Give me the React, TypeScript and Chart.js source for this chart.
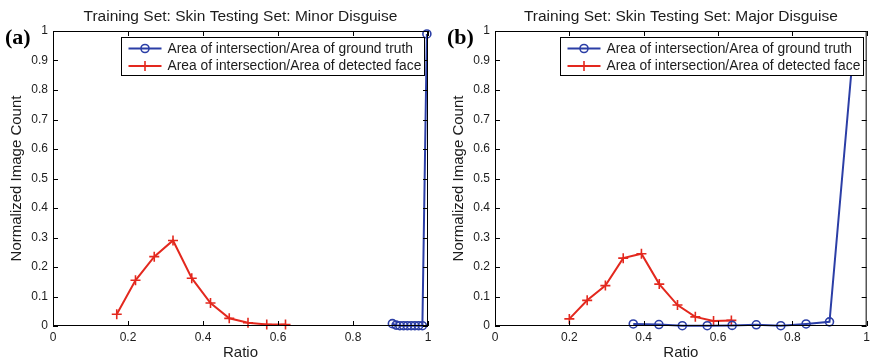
import React, { useEffect, useRef } from "react";
import { Chart, registerables } from "chart.js";

Chart.register(...registerables);

const SANS = "'Liberation Sans', Arial, Helvetica, sans-serif";
const SERIF = "'Liberation Serif', 'Times New Roman', serif";
const BLUE = "#2b3ea6";
const RED = "#e3281e";
const INK = "#1c1c1c";

const GROUND_LABEL = "Area of intersection/Area of ground truth";
const DETECTED_LABEL = "Area of intersection/Area of detected face";

const xTicks = [0, 0.2, 0.4, 0.6, 0.8, 1];
const yTicks = [0, 0.1, 0.2, 0.3, 0.4, 0.5, 0.6, 0.7, 0.8, 0.9, 1];

// (a) Skin training set, minor disguise test set
const minorGroundX = [0.905, 0.915, 0.925, 0.935, 0.945, 0.955, 0.965, 0.975, 0.985, 0.997];
const minorGroundY = [0.008, 0.003, 0.001, 0.001, 0.001, 0.001, 0.001, 0.001, 0.001, 0.99];
const minorDetectedX = [0.17, 0.22, 0.27, 0.32, 0.37, 0.42, 0.47, 0.52, 0.57, 0.62];
const minorDetectedY = [0.04, 0.155, 0.235, 0.29, 0.162, 0.078, 0.026, 0.011, 0.005, 0.005];

// (b) Skin training set, major disguise test set
const majorGroundX = [0.372, 0.441, 0.504, 0.571, 0.638, 0.703, 0.769, 0.837, 0.9, 0.965];
const majorGroundY = [0.007, 0.005, 0.001, 0.001, 0.002, 0.004, 0.001, 0.007, 0.014, 0.95];
const majorDetectedX = [0.2, 0.248, 0.297, 0.345, 0.394, 0.442, 0.491, 0.539, 0.588, 0.636];
const majorDetectedY = [0.024, 0.087, 0.137, 0.23, 0.245, 0.142, 0.071, 0.031, 0.017, 0.019];

const CANVAS_W = 437;
const CANVAS_H = 361;

type PanelProps = {
  tag: string;
  title: string;
  groundX: number[];
  groundY: number[];
  detectedX: number[];
  detectedY: number[];
  left: number;
  axisLeft: number;
  padRight: number;
};

function pairs(xs: number[], ys: number[]) {
  return xs.map((x, i) => ({ x, y: ys[i] }));
}

function fmtTick(v: number) {
  return String(Math.round(v * 10) / 10);
}

function makeFrame(tag: string, title: string) {
  return {
    id: "frame",
    afterDatasetsDraw(chart: any) {
      const ctx: CanvasRenderingContext2D = chart.ctx;
      const a = chart.chartArea;
      const sx = chart.scales.x;
      const sy = chart.scales.y;
      ctx.save();
      ctx.strokeStyle = "#000";
      ctx.lineWidth = 1;
      ctx.strokeRect(a.left + 0.5, a.top + 0.5, a.right - a.left - 1, a.bottom - a.top - 1);
      ctx.beginPath();
      const tl = 5;
      for (const v of xTicks) {
        const px = Math.round(sx.getPixelForValue(v)) + 0.5;
        ctx.moveTo(px, a.bottom);
        ctx.lineTo(px, a.bottom - tl);
        ctx.moveTo(px, a.top);
        ctx.lineTo(px, a.top + tl);
      }
      for (const v of yTicks) {
        const py = Math.round(sy.getPixelForValue(v)) + 0.5;
        ctx.moveTo(a.left, py);
        ctx.lineTo(a.left + tl, py);
        ctx.moveTo(a.right, py);
        ctx.lineTo(a.right - tl, py);
      }
      ctx.stroke();

      // legend box in the upper right corner
      const bw = 303;
      const bh = 38;
      const bx = Math.round(a.right - 4 - bw) + 0.5;
      const by = Math.round(a.top + 6) + 0.5;
      ctx.fillStyle = "#fff";
      ctx.fillRect(bx, by, bw, bh);
      ctx.strokeStyle = "#000";
      ctx.lineWidth = 1;
      ctx.strokeRect(bx, by, bw, bh);
      const rows = [
        { label: GROUND_LABEL, color: BLUE, marker: "circle" },
        { label: DETECTED_LABEL, color: RED, marker: "cross" },
      ];
      ctx.font = `13.8px ${SANS}`;
      ctx.textBaseline = "middle";
      ctx.textAlign = "left";
      rows.forEach((r, i) => {
        const cy = by + 11 + i * 17.5;
        ctx.strokeStyle = r.color;
        ctx.lineWidth = 2;
        ctx.beginPath();
        ctx.moveTo(bx + 7, cy);
        ctx.lineTo(bx + 40, cy);
        ctx.stroke();
        const mx = bx + 23.5;
        ctx.lineWidth = 1.6;
        ctx.beginPath();
        if (r.marker === "circle") {
          ctx.arc(mx, cy, 4, 0, Math.PI * 2);
        } else {
          ctx.moveTo(mx - 5, cy);
          ctx.lineTo(mx + 5, cy);
          ctx.moveTo(mx, cy - 5);
          ctx.lineTo(mx, cy + 5);
        }
        ctx.stroke();
        ctx.fillStyle = INK;
        ctx.fillText(r.label, bx + 46, cy + 0.5);
      });
      ctx.restore();
    },
    afterDraw(chart: any) {
      const ctx: CanvasRenderingContext2D = chart.ctx;
      const a = chart.chartArea;
      const cx = (a.left + a.right) / 2;
      const cy = (a.top + a.bottom) / 2;
      ctx.save();
      ctx.fillStyle = INK;
      ctx.textAlign = "center";
      ctx.textBaseline = "alphabetic";
      ctx.font = `15.5px ${SANS}`;
      ctx.fillText(title, cx, 21);
      ctx.font = `15px ${SANS}`;
      ctx.fillText("Ratio", cx, 357);
      ctx.save();
      ctx.translate(a.left - 36, cy);
      ctx.rotate(-Math.PI / 2);
      ctx.textBaseline = "middle";
      ctx.fillText("Normalized Image Count", 0, 0);
      ctx.restore();
      ctx.fillStyle = "#000";
      ctx.textAlign = "left";
      ctx.font = `bold 22px ${SERIF}`;
      ctx.fillText(tag, a.left - 48, 44);
      ctx.restore();
    },
  };
}

function Panel(p: PanelProps) {
  const ref = useRef<HTMLCanvasElement>(null);
  useEffect(() => {
    const canvas = ref.current;
    if (!canvas) return;
    const tickFont = { family: SANS, size: 12 };
    const chart = new Chart(canvas, {
      type: "line",
      data: {
        datasets: [
          {
            label: GROUND_LABEL,
            data: pairs(p.groundX, p.groundY),
            borderColor: BLUE,
            backgroundColor: "transparent",
            borderWidth: 2,
            pointStyle: "circle",
            pointRadius: 4,
            pointBorderWidth: 1.6,
            pointBorderColor: BLUE,
            pointBackgroundColor: "transparent",
            tension: 0,
            clip: 8,
          },
          {
            label: DETECTED_LABEL,
            data: pairs(p.detectedX, p.detectedY),
            borderColor: RED,
            backgroundColor: "transparent",
            borderWidth: 2,
            pointStyle: "cross",
            pointRadius: 5,
            pointBorderWidth: 1.6,
            pointBorderColor: RED,
            pointBackgroundColor: "transparent",
            tension: 0,
            clip: 8,
          },
        ],
      },
      options: {
        responsive: false,
        animation: false,
        devicePixelRatio: 1,
        events: [],
        layout: { padding: { left: 0, right: p.padRight, top: 31, bottom: 0 } },
        scales: {
          x: {
            type: "linear",
            min: 0,
            max: 1,
            afterBuildTicks: (s: any) => {
              s.ticks = xTicks.map((value) => ({ value }));
            },
            afterFit: (s: any) => {
              s.height = 35;
            },
            ticks: {
              font: tickFont,
              color: INK,
              padding: 4,
              maxRotation: 0,
              autoSkip: false,
              callback: (v: any) => fmtTick(Number(v)),
            },
            grid: { display: false, drawTicks: false },
            border: { display: false },
          },
          y: {
            type: "linear",
            min: 0,
            max: 1,
            afterBuildTicks: (s: any) => {
              s.ticks = yTicks.map((value) => ({ value }));
            },
            afterFit: (s: any) => {
              s.width = p.axisLeft;
            },
            ticks: {
              font: tickFont,
              color: INK,
              padding: 5,
              autoSkip: false,
              callback: (v: any) => fmtTick(Number(v)),
            },
            grid: { display: false, drawTicks: false },
            border: { display: false },
          },
        },
        plugins: {
          legend: { display: false },
          tooltip: { enabled: false },
          title: { display: false },
        },
      },
      plugins: [makeFrame(p.tag, p.title)],
    } as any);
    return () => chart.destroy();
  }, []);
  return (
    <canvas
      ref={ref}
      width={CANVAS_W}
      height={CANVAS_H}
      style={{ position: "absolute", left: p.left, top: 0, width: CANVAS_W, height: CANVAS_H }}
    />
  );
}

export default function App() {
  return (
    <div
      style={{
        position: "fixed",
        left: 0,
        top: 0,
        width: 874,
        height: 361,
        background: "#fff",
        overflow: "hidden",
      }}
    >
      <Panel
        tag="(a)"
        title="Training Set: Skin Testing Set: Minor Disguise"
        groundX={minorGroundX}
        groundY={minorGroundY}
        detectedX={minorDetectedX}
        detectedY={minorDetectedY}
        left={0}
        axisLeft={53}
        padRight={9}
      />
      <Panel
        tag="(b)"
        title="Training Set: Skin Testing Set: Major Disguise"
        groundX={majorGroundX}
        groundY={majorGroundY}
        detectedX={majorDetectedX}
        detectedY={majorDetectedY}
        left={437}
        axisLeft={58}
        padRight={4}
      />
    </div>
  );
}
